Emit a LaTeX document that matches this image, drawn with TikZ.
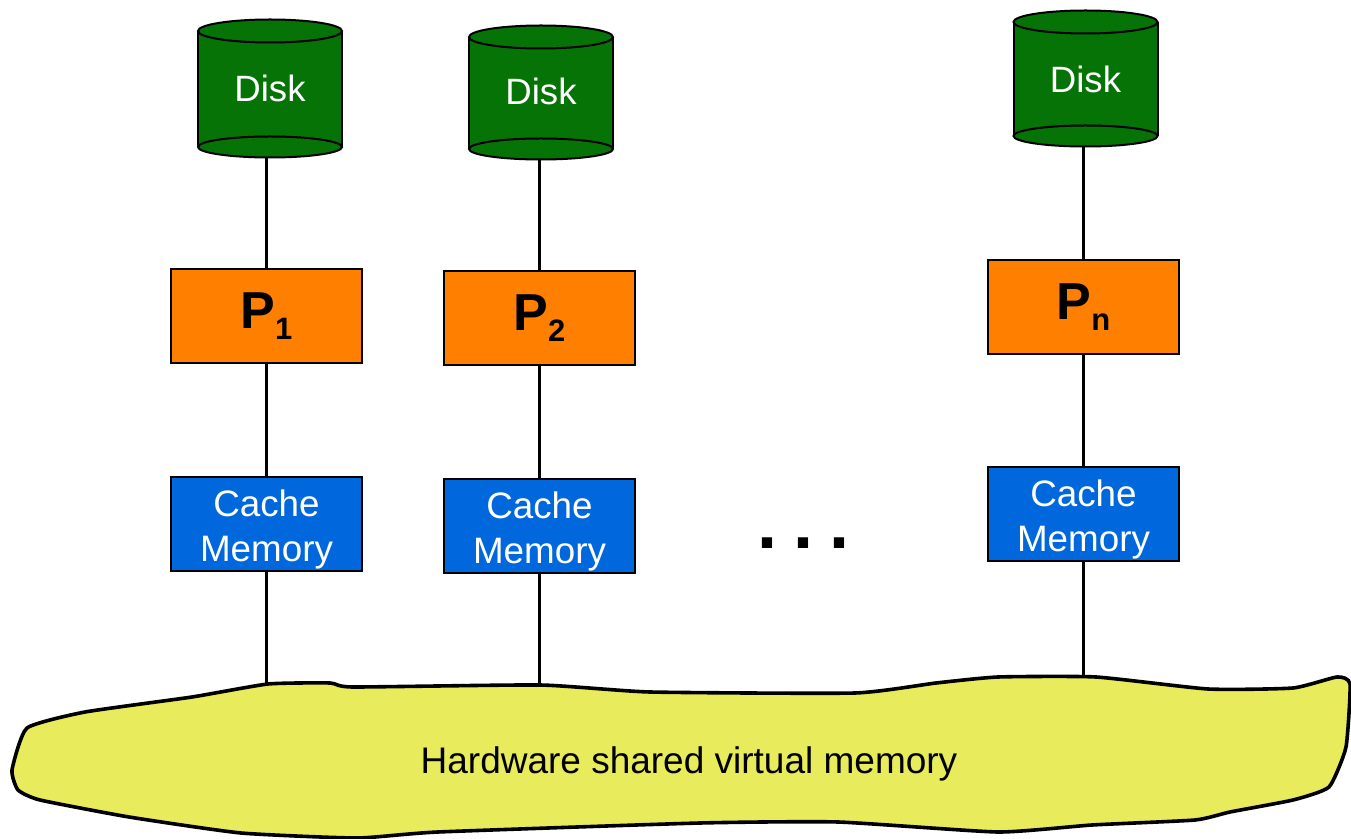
\documentclass[tikz,border=0pt]{standalone}
\usepackage{fontspec}
\setmainfont{Liberation Sans}
\definecolor{diskgreen}{RGB}{6,115,6}
\definecolor{porange}{RGB}{255,128,0}
\definecolor{cblue}{RGB}{0,104,220}
\definecolor{blobyellow}{RGB}{232,235,92}
\newcommand\drawdisk[3]{%
  \fill[diskgreen] (#1-72,#2) rectangle (#1+72,#3);
  \filldraw[fill=diskgreen, draw=black, line width=1pt] (#1,#3) ellipse [x radius=72, y radius=10.5];
  \filldraw[fill=diskgreen, draw=black, line width=1pt] (#1,#2) ellipse [x radius=72, y radius=11.5];
  \draw[line width=1pt] (#1-72,#2) -- (#1-72,#3) (#1+72,#2) -- (#1+72,#3);
}
\newcommand\procname[1]{{\fontsize{26}{30}\selectfont\bfseries P\raisebox{-5.5pt}{\fontsize{15.5}{18}\selectfont\bfseries #1}}}
\newcommand\cachetext{\raisebox{-3pt}[\height][\depth]{\begin{tabular}{@{}c@{}}Cache\\Memory\end{tabular}}}
\begin{document}
\begin{tikzpicture}[x=0.5pt,y=-0.5pt,
  box/.style={draw=black, line width=1pt, minimum width=95.5pt, minimum height=47pt, inner sep=0pt},
  pbox/.style={box, fill=porange},
  cbox/.style={box, fill=cblue, text=white, font=\fontsize{18.4}{22.5}\selectfont},
  disklab/.style={inner sep=0pt, minimum width=72pt, text=white, font=\fontsize{18.3}{22}\selectfont},
  link/.style={line width=1.5pt},
  blob/.style={draw=black, line width=1.8pt, fill=blobyellow}]
\useasboundingbox (0,0) rectangle (1351,839);
% disks
\drawdisk{270}{31}{147}
\node[disklab, minimum height=68.5pt] (d1) at (270,88.5) {Disk};
\drawdisk{541}{37}{149}
\node[disklab, minimum height=67pt] (d2) at (541,93) {\raisebox{1pt}[\height][\depth]{Disk}};
\drawdisk{1085.5}{22}{136}
\node[disklab, minimum height=68pt] (dn) at (1085.5,79) {Disk};
% processors
\node[pbox] (p1) at (266.5,316) {\procname{1}};
\node[pbox] (p2) at (539.5,318) {\procname{2}};
\node[pbox] (pn) at (1083.5,307) {\procname{n}};
% caches
\node[cbox] (c1) at (266.5,524) {\cachetext};
\node[cbox] (c2) at (539.5,526.5) {\cachetext};
\node[cbox] (cn) at (1083.5,514) {\cachetext};
% dots
\node[font=\fontsize{36}{40}\selectfont\bfseries, anchor=base, inner sep=0pt] (dots) at (804,549) {.\hspace{8pt}.\hspace{8pt}.};
% bus attach points
\coordinate (b1) at (267,686);
\coordinate (b2) at (540,687);
\coordinate (bn) at (1083,678);
% connectors
\draw[link] (p1.north) -- (p1.north |- d1.south);
\draw[link] (p2.north) -- (p2.north |- d2.south);
\draw[link] (pn.north) -- (pn.north |- dn.south);
\draw[link] (p1.south) -- (c1.north);
\draw[link] (p2.south) -- (c2.north);
\draw[link] (pn.south) -- (cn.north);
\draw[link] (c1.south) -- (c1.south |- b1);
\draw[link] (c2.south) -- (c2.south |- b2);
\draw[link] (cn.south) -- (cn.south |- bn);
% shared memory blob
\draw[blob] plot[smooth cycle, tension=0.3] coordinates {
 (27,728) (85,712) (192,697) (268,684) (330,683) (353,687) (540,685) (650,692)
 (855,693) (936,683) (998,677) (1096,677) (1208,689) (1293,688) (1337,677) (1350,684)
 (1346,747) (1329,787) (1293,800) (1230,812) (1195,820) (1092,825) (998,832) (838,822)
 (700,823) (438,832) (357,838) (241,833) (129,817) (40,800) (18,790) (12,770)};
\node[font=\fontsize{18.5}{22}\selectfont, inner sep=0pt] (hw) at (689,764) {Hardware shared virtual memory};
\end{tikzpicture}
\end{document}
